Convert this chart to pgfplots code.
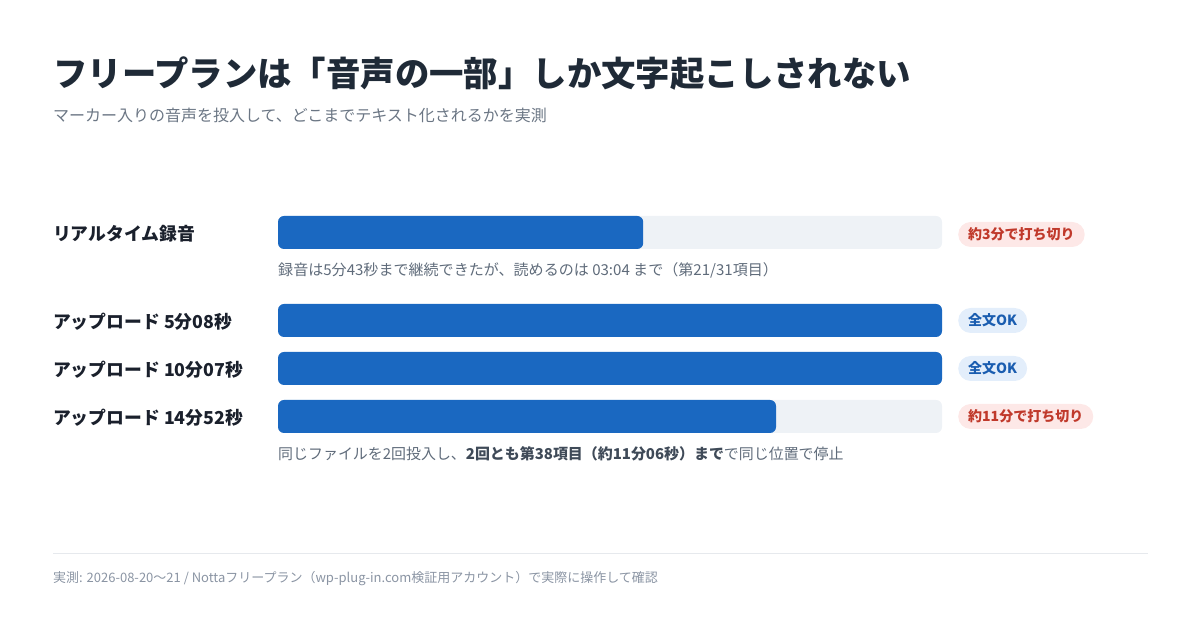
\documentclass[border=0pt]{standalone}
\usepackage{fontspec}
\usepackage{pgfplots}
\pgfplotsset{compat=1.18}
\setmainfont{Noto Sans CJK JP}

\definecolor{titlec}{HTML}{1F2A37}
\definecolor{subc}{HTML}{6B7684}
\definecolor{labelc}{HTML}{1A202C}
\definecolor{notec}{HTML}{5F6B7A}
\definecolor{notebold}{HTML}{3F4A58}
\definecolor{footc}{HTML}{8A94A3}
\definecolor{rulec}{HTML}{E6E9ED}
\definecolor{barblue}{HTML}{1A68C1}
\definecolor{track}{HTML}{EEF2F6}
\definecolor{redbg}{HTML}{FDE8E7}
\definecolor{redtx}{HTML}{C0392B}
\definecolor{bluebg}{HTML}{E3EEFB}
\definecolor{bluetx}{HTML}{1A5DB0}

\newcommand{\fs}[1]{\fontsize{#1bp}{#1bp}\selectfont}

\begin{document}
\begin{tikzpicture}[x=1bp,y=1bp]
\path (0,0) rectangle (1200,630);

% bars: x = percent of the recording that was transcribed
\begin{axis}[
  at={(278bp,0bp)}, anchor=south west,
  scale only axis, width=664bp, height=630bp,
  xmin=0, xmax=100, ymin=0, ymax=630,
  hide axis, clip=false,
  xbar, bar width=33, bar shift=0pt,
]
\addplot[draw=none, fill=track, rounded corners=6bp] coordinates {(100,397.5) (100,213.5)};
\addplot[draw=none, fill=barblue, rounded corners=6bp] coordinates {(55,397.5) (100,309.5) (100,261.5) (75,213.5)};
\end{axis}

% title and subtitle
\node[anchor=base west, inner sep=0, text=titlec, font=\bfseries\fs{34.4}] at (53,543) {フリープランは「音声の一部」しか文字起こしされない};
\node[anchor=base west, inner sep=0, text=subc, font=\fs{16}] at (53,508) {マーカー入りの音声を投入して、どこまでテキスト化されるかを実測};

% row labels
\begin{scope}[every node/.style={anchor=base west, inner sep=0, text=labelc, font=\bfseries\fs{17.8}}]
\node at (53,389) {リアルタイム録音};
\node at (53,301) {アップロード 5分08秒};
\node at (53,253) {アップロード 10分07秒};
\node at (53,205) {アップロード 14分52秒};
\end{scope}

% notes under bars
\node[anchor=base west, inner sep=0, text=notec, font=\fs{15.05}] at (278,354) {録音は5分43秒まで継続できたが、読めるのは 03:04 まで（第21/31項目）};
\node[anchor=base west, inner sep=0, text=notec, font=\fs{14.95}] at (278,170) {同じファイルを2回投入し、\textcolor{notebold}{\bfseries 2回とも第38項目（約11分06秒）まで}で同じ位置で停止};

% badges
\begin{scope}[every node/.style={anchor=west, rounded corners=12.5bp, minimum height=25bp, inner xsep=10bp, inner ysep=0, font=\bfseries\fs{14}}]
\node[fill=redbg, text=redtx] at (958,395.5) {約3分で打ち切り};
\node[fill=bluebg, text=bluetx] at (958,309.5) {全文OK};
\node[fill=bluebg, text=bluetx] at (958,261.5) {全文OK};
\node[fill=redbg, text=redtx] at (958,213.5) {約11分で打ち切り};
\end{scope}

% footer
\draw[rulec, line width=1bp] (53,76) -- (1148,76);
\node[anchor=base west, inner sep=0, text=footc, font=\fs{13}] at (53,47) {実測: 2026-08-20〜21 / Nottaフリープラン（wp-plug-in.com検証用アカウント）で実際に操作して確認};
\end{tikzpicture}
\end{document}
